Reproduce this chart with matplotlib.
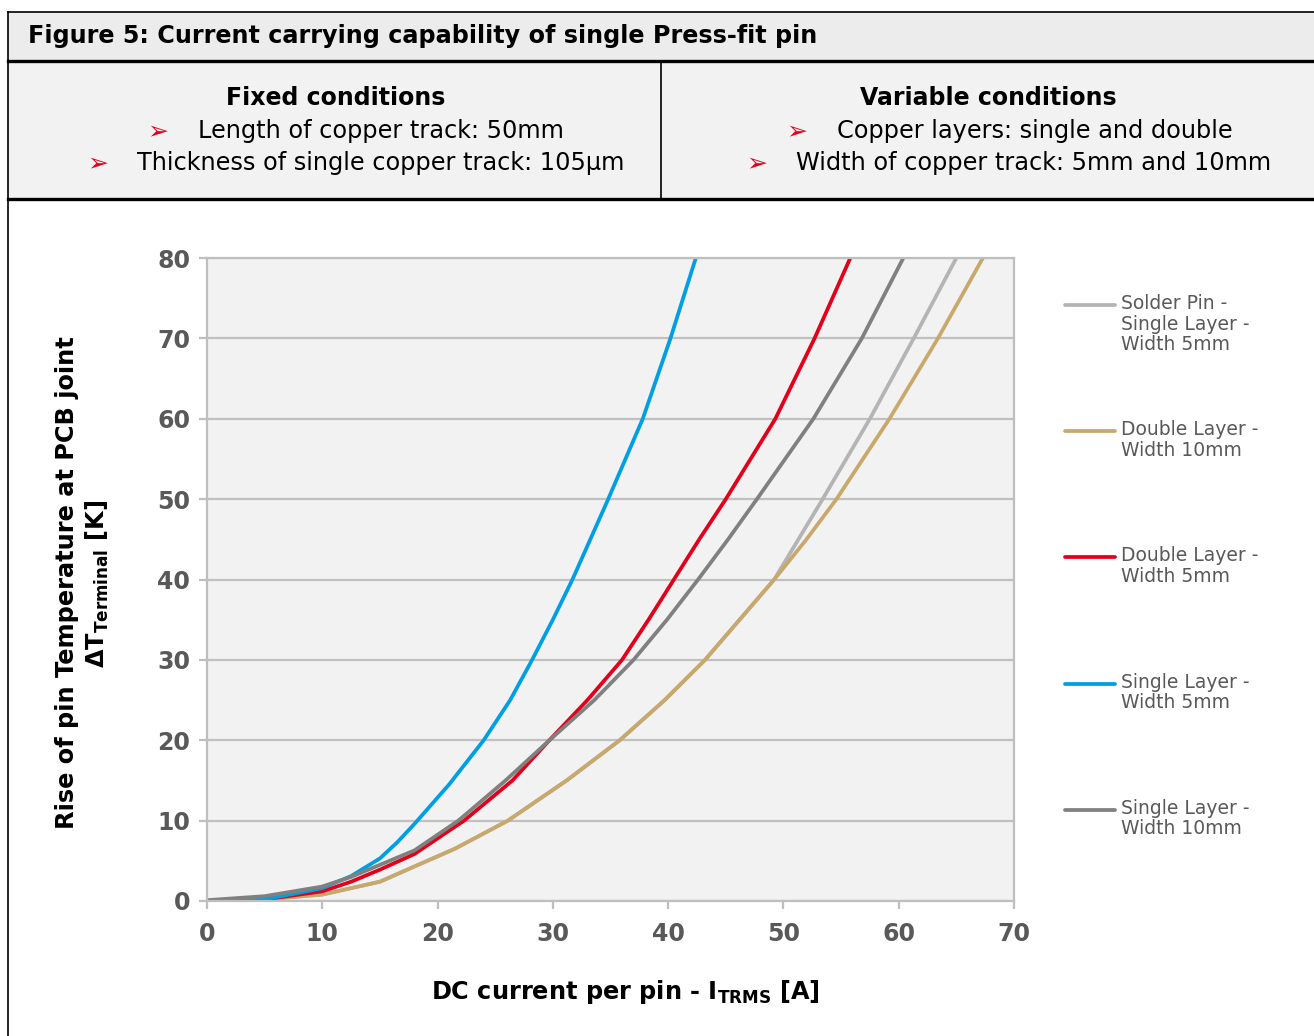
import matplotlib.pyplot as plt
import matplotlib.patches as mpatches
from matplotlib.lines import Line2D

W, H = 1314, 1036

# current [A] and temperature rise [K]
solder_i = [0, 5, 10, 15, 18, 21.5, 26.1, 31.2, 35.8, 39.7, 43.2, 46.2, 49.2, 51.3, 53.4, 57.5, 61.3, 65.0]
solder_t = [0, 0.2, 0.8, 2.4, 4.3, 6.5, 10, 15, 20, 25, 30, 35, 40, 45, 50, 60, 70, 80]

dbl10_i = [0, 5, 10, 15, 18, 21.5, 26.1, 31.2, 35.8, 39.7, 43.2, 46.2, 49.2, 52.0, 54.6, 59.2, 63.4, 67.3]
dbl10_t = [0, 0.2, 0.8, 2.4, 4.3, 6.5, 10, 15, 20, 25, 30, 35, 40, 45, 50, 60, 70, 80]

dbl5_i = [0, 5, 10, 12.5, 15, 18, 22.3, 26.5, 29.7, 33.0, 36.0, 38.3, 40.5, 42.7, 45.0, 49.3, 52.7, 55.8]
dbl5_t = [0, 0.2, 1.2, 2.4, 3.9, 5.85, 10, 15, 20, 25, 30, 35, 40, 45, 50, 60, 70, 80]

sgl5_i = [0, 5, 10, 12.5, 15, 16.5, 18, 21.0, 24.0, 26.3, 28.2, 30.0, 31.7, 34.8, 37.8, 40.2, 42.4]
sgl5_t = [0, 0.2, 1.6, 3.1, 5.3, 7.3, 9.6, 14.5, 20, 25, 30, 35, 40, 50, 60, 70, 80]

sgl10_i = [0, 5, 10, 12.5, 15, 18, 21.8, 25.9, 29.7, 33.6, 37.0, 39.9, 42.6, 45.2, 47.7, 52.6, 56.8, 60.4]
sgl10_t = [0.1, 0.6, 1.8, 3.0, 4.5, 6.3, 10, 15, 20, 25, 30, 35, 40, 45, 50, 60, 70, 80]

series = [
    ("Solder Pin -\nSingle Layer -\nWidth 5mm", solder_i, solder_t, "#b4b4b4"),
    ("Double Layer -\nWidth 10mm", dbl10_i, dbl10_t, "#c9a86c"),
    ("Double Layer -\nWidth 5mm", dbl5_i, dbl5_t, "#e2001a"),
    ("Single Layer -\nWidth 5mm", sgl5_i, sgl5_t, "#009fe3"),
    ("Single Layer -\nWidth 10mm", sgl10_i, sgl10_t, "#808080"),
]
legend_y = [305, 431, 557, 684, 810]

x_ticks = [0, 10, 20, 30, 40, 50, 60, 70]
y_ticks = [0, 10, 20, 30, 40, 50, 60, 70, 80]


def fx(px):
    return px / W


def fy(py):
    return 1 - py / H


fig = plt.figure(figsize=(W / 100, H / 100), dpi=100)

# header table
fig.add_artist(mpatches.Rectangle((fx(8), fy(60)), fx(W) - fx(8), fy(12) - fy(60),
                                  transform=fig.transFigure, facecolor="#ececec",
                                  edgecolor="none"))
fig.add_artist(mpatches.Rectangle((fx(8), fy(199)), fx(W) - fx(8), fy(60) - fy(199),
                                  transform=fig.transFigure, facecolor="#f2f2f2",
                                  edgecolor="none"))
fig.add_artist(Line2D([fx(8), 1], [fy(12), fy(12)], color="black", lw=1.2))
fig.add_artist(Line2D([fx(8), fx(8)], [fy(12), 0], color="black", lw=1.2))
fig.add_artist(Line2D([fx(8), 1], [fy(61), fy(61)], color="black", lw=2.4))
fig.add_artist(Line2D([fx(8), 1], [fy(199), fy(199)], color="black", lw=2.4))
fig.add_artist(Line2D([fx(661), fx(661)], [fy(61), fy(199)], color="black", lw=1.2))

fig.text(fx(28), fy(36), "Figure 5: Current carrying capability of single Press-fit pin",
         fontsize=17.2, fontweight="bold", va="center", ha="left")

fig.text(fx(336), fy(98), "Fixed conditions", fontsize=17, fontweight="bold",
         ha="center", va="center")
fig.text(fx(988), fy(98), "Variable conditions", fontsize=17, fontweight="bold",
         ha="center", va="center")

bullets = [
    (158, 198, 131, "Length of copper track: 50mm"),
    (98, 137, 163, "Thickness of single copper track: 105µm"),
    (797, 837, 131, "Copper layers: single and double"),
    (757, 796, 163, "Width of copper track: 5mm and 10mm"),
]
for ax_px, tx_px, y_px, txt in bullets:
    fig.text(fx(ax_px), fy(y_px), "➢", color="#e2001a", fontsize=18,
             ha="center", va="center")
    fig.text(fx(tx_px), fy(y_px), txt, fontsize=17.3, ha="left", va="center")

# chart
ax = fig.add_axes([fx(207), fy(901), fx(1014) - fx(207), fy(258) - fy(901)])
ax.set_facecolor("#f2f2f2")

for label, xs, ys, color in series:
    ax.plot(xs, ys, color=color, lw=2.7, solid_capstyle="round", solid_joinstyle="round")

ax.set_xlim(0, 70)
ax.set_ylim(0, 80)
ax.set_xticks(x_ticks)
ax.set_yticks(y_ticks)
ax.yaxis.grid(True, color="#c0c0c0", lw=1.6)
ax.set_axisbelow(True)
for s in ax.spines.values():
    s.set_color("#bfbfbf")
    s.set_linewidth(1.6)
ax.tick_params(axis="both", colors="#bfbfbf", width=1.6, length=6,
               labelcolor="#595959", labelsize=17)
ax.tick_params(axis="x", pad=9)
ax.tick_params(axis="y", pad=6)
for lbl in ax.get_xticklabels() + ax.get_yticklabels():
    lbl.set_fontweight("bold")

fig.text(fx(625), fy(992), r"DC current per pin - I$_{\mathbf{TRMS}}$ [A]",
         fontsize=17.3, fontweight="bold", ha="center", va="center")
fig.text(fx(67), fy(583), "Rise of pin Temperature at PCB joint", rotation=90,
         fontsize=17.3, fontweight="bold", ha="center", va="center")
fig.text(fx(97), fy(584), r"ΔT$_{\mathbf{Terminal}}$ [K]", rotation=90,
         fontsize=17.3, fontweight="bold", ha="center", va="center")

# legend drawn at the right side
for (label, xs, ys, color), ly in zip(series, legend_y):
    fig.add_artist(Line2D([fx(1065), fx(1115)], [fy(ly), fy(ly)], color=color, lw=2.7,
                          solid_capstyle="round"))
    fig.text(fx(1121), fy(ly - 11), label, fontsize=13.5, color="#595959",
             ha="left", va="top", linespacing=1.1)

fig.savefig("out.png", dpi=100)
